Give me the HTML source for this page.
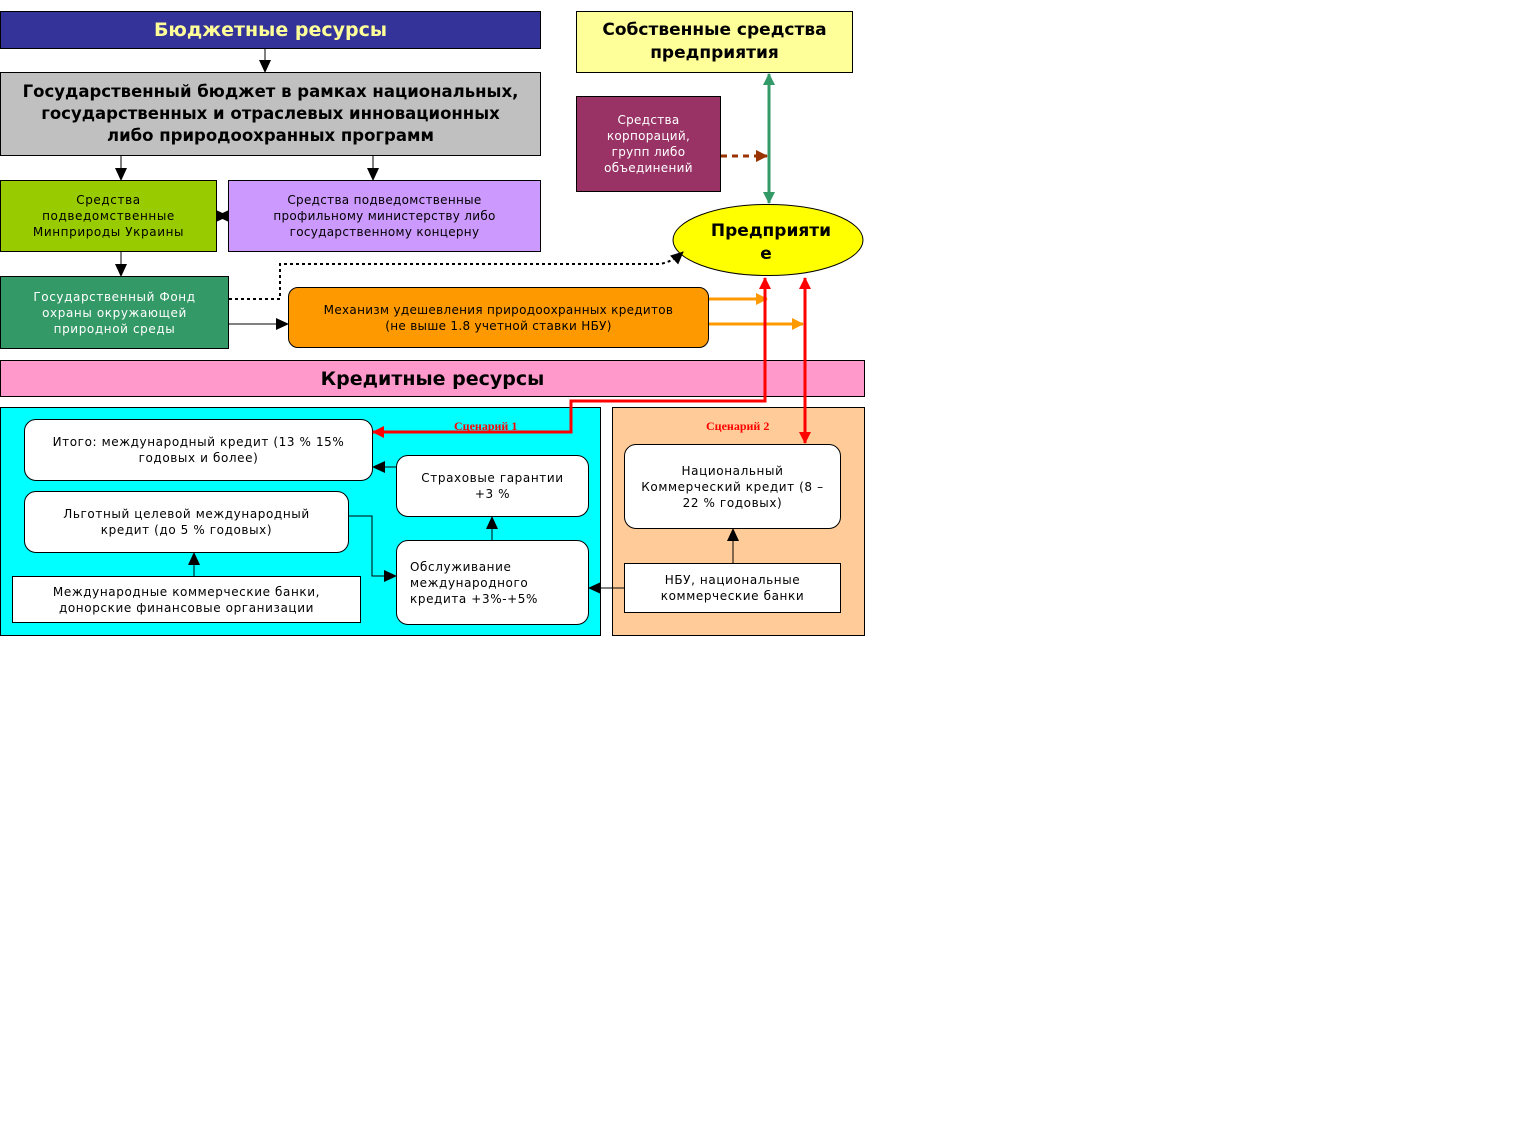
<!DOCTYPE html>
<html><head><meta charset="utf-8"><style>
body{margin:0;width:1526px;height:1123px;background:#fff;position:relative;overflow:hidden;font-family:"DejaVu Sans","Liberation Sans",sans-serif;}
.b{position:absolute;box-sizing:border-box;border:1px solid #000;display:flex;align-items:center;justify-content:center;text-align:center;font-size:12px;line-height:16px;letter-spacing:0.6px;color:#000;}
.r{border-radius:12px;background:#fff;}
svg{position:absolute;left:0;top:0;}
</style></head><body>
<div class="b" style="left:0;top:11px;width:541px;height:38px;background:#333399;color:#ffff99;font-size:19px;font-weight:bold;letter-spacing:0;">Бюджетные ресурсы</div>
<div class="b" style="left:576px;top:11px;width:277px;height:62px;background:#ffff99;font-size:17px;font-weight:bold;line-height:23px;letter-spacing:0;">Собственные средства<br>предприятия</div>
<div class="b" style="left:0;top:72px;width:541px;height:84px;background:#c0c0c0;font-size:16.5px;font-weight:bold;line-height:22px;letter-spacing:0;">Государственный бюджет в рамках национальных,<br>государственных и отраслевых инновационных<br>либо природоохранных программ</div>
<div class="b" style="left:576px;top:96px;width:145px;height:96px;background:#993366;color:#fff;letter-spacing:0.3px;">Средства<br>корпораций,<br>групп либо<br>объединений</div>
<div class="b" style="left:0;top:180px;width:217px;height:72px;background:#99cc00;">Средства<br>подведомственные<br>Минприроды Украины</div>
<div class="b" style="left:228px;top:180px;width:313px;height:72px;background:#cc99ff;letter-spacing:0.3px;">Средства подведомственные<br>профильному министерству либо<br>государственному концерну</div>
<div class="b" style="left:0;top:276px;width:229px;height:73px;background:#339966;color:#fff;">Государственный Фонд<br>охраны окружающей<br>природной среды</div>
<div class="b" style="left:288px;top:287px;width:421px;height:61px;background:#ff9900;border-radius:10px;letter-spacing:0.3px;">Механизм удешевления природоохранных кредитов<br>(не выше 1.8 учетной ставки НБУ)</div>
<div class="b" style="left:0;top:360px;width:865px;height:37px;background:#ff99cc;font-size:19px;font-weight:bold;letter-spacing:0;">Кредитные ресурсы</div>
<div class="b" style="left:0;top:407px;width:601px;height:229px;background:#00ffff;"></div>
<div class="b" style="left:612px;top:407px;width:253px;height:229px;background:#ffcc99;"></div>
<div style="position:absolute;left:454px;top:419px;font:bold 12px 'Liberation Serif',serif;color:#ff0000;">Сценарий 1</div>
<div style="position:absolute;left:706px;top:419px;font:bold 12px 'Liberation Serif',serif;color:#ff0000;">Сценарий 2</div>
<div class="b r" style="left:24px;top:419px;width:349px;height:62px;">Итого: международный кредит (13 % 15%<br>годовых и более)</div>
<div class="b r" style="left:396px;top:455px;width:193px;height:62px;">Страховые гарантии<br>+3 %</div>
<div class="b r" style="left:24px;top:491px;width:325px;height:62px;">Льготный целевой международный<br>кредит (до 5 % годовых)</div>
<div class="b r" style="left:396px;top:540px;width:193px;height:85px;justify-content:flex-start;text-align:left;padding-left:13px;">Обслуживание<br>международного<br>кредита +3%-+5%</div>
<div class="b" style="left:12px;top:576px;width:349px;height:47px;background:#fff;">Международные коммерческие банки,<br>донорские финансовые организации</div>
<div class="b r" style="left:624px;top:444px;width:217px;height:85px;">Национальный<br>Коммерческий кредит (8 –<br>22 % годовых)</div>
<div class="b" style="left:624px;top:563px;width:217px;height:50px;background:#fff;">НБУ, национальные<br>коммерческие банки</div>
<svg width="1526" height="1123">
<defs>
<marker id="k" markerWidth="13" markerHeight="12" refX="12" refY="6" orient="auto" markerUnits="userSpaceOnUse"><path d="M0,0L13,6L0,12z" fill="#000"/></marker>
<marker id="g" markerWidth="12" markerHeight="12" refX="11" refY="6" orient="auto-start-reverse" markerUnits="userSpaceOnUse"><path d="M0,0L12,6L0,12z" fill="#339966"/></marker>
<marker id="rd" markerWidth="12" markerHeight="12" refX="11" refY="6" orient="auto-start-reverse" markerUnits="userSpaceOnUse"><path d="M0,0L12,6L0,12z" fill="#ff0000"/></marker>
<marker id="o" markerWidth="12" markerHeight="12" refX="11" refY="6" orient="auto" markerUnits="userSpaceOnUse"><path d="M0,0L12,6L0,12z" fill="#ff9900"/></marker>
<marker id="br" markerWidth="12" markerHeight="12" refX="11" refY="6" orient="auto" markerUnits="userSpaceOnUse"><path d="M0,0L12,6L0,12z" fill="#993300"/></marker>
</defs>
<ellipse cx="768" cy="240" rx="95" ry="35.5" fill="#ffff00" stroke="#000" stroke-width="1"/>
<text x="771" y="236" font-family="DejaVu Sans,sans-serif" font-weight="bold" font-size="17" text-anchor="middle">Предприяти</text>
<text x="766" y="259" font-family="DejaVu Sans,sans-serif" font-weight="bold" font-size="17" text-anchor="middle">е</text>
<g stroke="#000" stroke-width="1" fill="none">
<line x1="265" y1="49" x2="265" y2="72" marker-end="url(#k)"/>
<line x1="121" y1="156" x2="121" y2="180" marker-end="url(#k)"/>
<line x1="373" y1="156" x2="373" y2="180" marker-end="url(#k)"/>
<line x1="121" y1="252" x2="121" y2="276" marker-end="url(#k)"/>
<line x1="229" y1="324" x2="288" y2="324" marker-end="url(#k)"/>
<line x1="226" y1="216" x2="217" y2="216" marker-end="url(#k)"/>
<line x1="219" y1="216" x2="228" y2="216" marker-end="url(#k)"/>
<path d="M229,299H280V264H660Q672,262 683,252" stroke-dasharray="3,3" stroke-width="2" marker-end="url(#k)"/>
<line x1="396" y1="467" x2="373" y2="467" marker-end="url(#k)"/>
<line x1="492" y1="540" x2="492" y2="517" marker-end="url(#k)"/>
<path d="M349,516H372V576H396" marker-end="url(#k)"/>
<line x1="194" y1="576" x2="194" y2="553" marker-end="url(#k)"/>
<line x1="624" y1="588" x2="589" y2="588" marker-end="url(#k)"/>
<line x1="733" y1="563" x2="733" y2="529" marker-end="url(#k)"/>
</g>
<line x1="769" y1="74" x2="769" y2="203" stroke="#339966" stroke-width="3" marker-start="url(#g)" marker-end="url(#g)"/>
<line x1="721" y1="156" x2="767" y2="156" stroke="#993300" stroke-width="3" stroke-dasharray="6,5" marker-end="url(#br)"/>
<line x1="709" y1="299" x2="767" y2="299" stroke="#ff9900" stroke-width="3" marker-end="url(#o)"/>
<line x1="709" y1="324" x2="803" y2="324" stroke="#ff9900" stroke-width="3" marker-end="url(#o)"/>
<path d="M765,278V401H571V432H373" stroke="#ff0000" stroke-width="3" fill="none" marker-start="url(#rd)" marker-end="url(#rd)"/>
<line x1="805" y1="278" x2="805" y2="443" stroke="#ff0000" stroke-width="3" marker-start="url(#rd)" marker-end="url(#rd)"/>
</svg>
</body></html>
